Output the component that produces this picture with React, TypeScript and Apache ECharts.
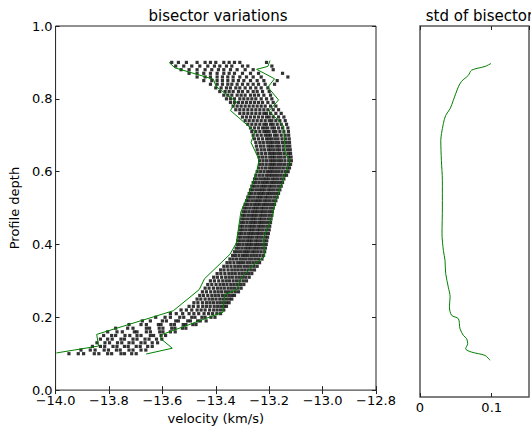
import React, { useEffect, useRef } from "react";
import * as echarts from "echarts";

// Depth levels of the sampled bisector points (top to bottom)
const depthLevels = [
  0.90, 0.89, 0.88, 0.87, 0.86, 0.85, 0.84, 0.83, 0.82, 0.81,
  0.80, 0.79, 0.78, 0.77, 0.76, 0.75, 0.74, 0.73, 0.72, 0.71,
  0.70, 0.69, 0.68, 0.67, 0.66, 0.65, 0.64, 0.63, 0.62, 0.61,
  0.60, 0.59, 0.58, 0.57, 0.56, 0.55, 0.54, 0.53, 0.52, 0.51,
  0.50, 0.49, 0.48, 0.47, 0.46, 0.45, 0.44, 0.43, 0.42, 0.41,
  0.40, 0.39, 0.38, 0.37, 0.36, 0.35, 0.34, 0.33, 0.32, 0.31,
  0.30, 0.29, 0.28, 0.27, 0.26, 0.25, 0.24, 0.23, 0.22, 0.21,
  0.20, 0.19, 0.18, 0.17, 0.16, 0.15, 0.14, 0.13, 0.12, 0.11,
  0.10,
];

// Bisector velocities (km/s) read at each depth level
const velocityRows = [
  [-13.565, -13.54, -13.51, -13.47, -13.44, -13.42, -13.40, -13.37, -13.35, -13.33, -13.31, -13.21],
  [-13.55, -13.52, -13.49, -13.46, -13.43, -13.405, -13.385, -13.36, -13.34, -13.30, -13.28, -13.19],
  [-13.53, -13.50, -13.47, -13.44, -13.415, -13.39, -13.37, -13.345, -13.32, -13.29, -13.26, -13.185],
  [-13.50, -13.47, -13.445, -13.42, -13.395, -13.37, -13.35, -13.33, -13.30, -13.27, -13.24, -13.15],
  [-13.47, -13.44, -13.42, -13.395, -13.375, -13.355, -13.335, -13.31, -13.285, -13.26, -13.23, -13.13],
  [-13.445, -13.415, -13.395, -13.375, -13.355, -13.335, -13.315, -13.295, -13.27, -13.245, -13.22, -13.17],
  [-13.42, -13.395, -13.375, -13.355, -13.34, -13.32, -13.30, -13.28, -13.26, -13.24, -13.215, -13.18],
  [-13.40, -13.38, -13.36, -13.345, -13.325, -13.31, -13.29, -13.27, -13.25, -13.23, -13.205],
  [-13.385, -13.365, -13.35, -13.335, -13.315, -13.30, -13.28, -13.26, -13.245, -13.225, -13.20],
  [-13.37, -13.355, -13.34, -13.32, -13.305, -13.29, -13.27, -13.255, -13.24, -13.22, -13.195],
  [-13.36, -13.345, -13.33, -13.31, -13.295, -13.28, -13.265, -13.25, -13.23, -13.21, -13.19],
  [-13.345, -13.33, -13.315, -13.30, -13.285, -13.27, -13.255, -13.24, -13.225, -13.205, -13.185],
  [-13.335, -13.32, -13.305, -13.29, -13.275, -13.26, -13.245, -13.23, -13.215, -13.195, -13.175],
  [-13.325, -13.31, -13.295, -13.28, -13.265, -13.25, -13.235, -13.22, -13.205, -13.185, -13.165],
  [-13.31, -13.295, -13.28, -13.265, -13.25, -13.235, -13.22, -13.21, -13.195, -13.175, -13.155],
  [-13.30, -13.285, -13.27, -13.255, -13.24, -13.225, -13.21, -13.20, -13.185, -13.165, -13.145],
  [-13.29, -13.275, -13.26, -13.245, -13.23, -13.215, -13.20, -13.19, -13.175, -13.16, -13.14],
  [-13.28, -13.265, -13.25, -13.235, -13.22, -13.21, -13.195, -13.185, -13.17, -13.155, -13.135],
  [-13.27, -13.255, -13.24, -13.225, -13.215, -13.205, -13.19, -13.18, -13.165, -13.15, -13.13],
  [-13.265, -13.25, -13.235, -13.22, -13.21, -13.20, -13.185, -13.175, -13.16, -13.145, -13.128],
  [-13.26, -13.245, -13.23, -13.215, -13.205, -13.195, -13.18, -13.17, -13.155, -13.14, -13.127],
  [-13.255, -13.24, -13.225, -13.21, -13.20, -13.19, -13.178, -13.167, -13.152, -13.138, -13.125],
  [-13.25, -13.235, -13.222, -13.208, -13.197, -13.187, -13.175, -13.164, -13.15, -13.136, -13.124],
  [-13.248, -13.233, -13.22, -13.205, -13.195, -13.185, -13.172, -13.162, -13.148, -13.134, -13.123],
  [-13.245, -13.23, -13.217, -13.203, -13.193, -13.182, -13.17, -13.16, -13.146, -13.132, -13.121],
  [-13.242, -13.228, -13.214, -13.20, -13.19, -13.18, -13.168, -13.157, -13.144, -13.13, -13.12],
  [-13.238, -13.225, -13.212, -13.198, -13.188, -13.178, -13.166, -13.155, -13.142, -13.128, -13.118],
  [-13.236, -13.223, -13.21, -13.197, -13.187, -13.177, -13.165, -13.154, -13.141, -13.127, -13.117],
  [-13.236, -13.224, -13.211, -13.198, -13.188, -13.178, -13.166, -13.155, -13.143, -13.13, -13.12],
  [-13.24, -13.227, -13.214, -13.201, -13.191, -13.181, -13.17, -13.159, -13.147, -13.134, -13.124],
  [-13.245, -13.232, -13.219, -13.206, -13.196, -13.186, -13.175, -13.164, -13.152, -13.139, -13.129],
  [-13.25, -13.237, -13.224, -13.211, -13.201, -13.191, -13.18, -13.169, -13.157, -13.145, -13.135],
  [-13.255, -13.245, -13.233, -13.221, -13.211, -13.201, -13.189, -13.179, -13.168, -13.156, -13.145],
  [-13.26, -13.25, -13.238, -13.226, -13.216, -13.206, -13.194, -13.184, -13.173, -13.161, -13.15],
  [-13.265, -13.255, -13.243, -13.231, -13.221, -13.211, -13.199, -13.189, -13.178, -13.166, -13.155],
  [-13.27, -13.26, -13.248, -13.236, -13.226, -13.216, -13.204, -13.194, -13.183, -13.171, -13.16],
  [-13.275, -13.265, -13.253, -13.241, -13.231, -13.221, -13.209, -13.199, -13.188, -13.176, -13.165],
  [-13.28, -13.27, -13.258, -13.246, -13.236, -13.226, -13.214, -13.204, -13.193, -13.181, -13.17],
  [-13.285, -13.275, -13.263, -13.251, -13.241, -13.231, -13.219, -13.209, -13.198, -13.186, -13.175],
  [-13.29, -13.28, -13.268, -13.256, -13.246, -13.236, -13.224, -13.214, -13.203, -13.191, -13.18],
  [-13.295, -13.285, -13.273, -13.261, -13.251, -13.241, -13.229, -13.219, -13.208, -13.196, -13.185],
  [-13.298, -13.288, -13.276, -13.264, -13.254, -13.244, -13.232, -13.222, -13.211, -13.199, -13.188],
  [-13.30, -13.29, -13.278, -13.266, -13.256, -13.246, -13.234, -13.224, -13.213, -13.201, -13.19],
  [-13.303, -13.293, -13.281, -13.269, -13.259, -13.249, -13.237, -13.227, -13.216, -13.204, -13.193],
  [-13.305, -13.295, -13.283, -13.271, -13.261, -13.251, -13.239, -13.229, -13.218, -13.206, -13.195],
  [-13.308, -13.298, -13.286, -13.274, -13.264, -13.254, -13.242, -13.232, -13.221, -13.209, -13.198],
  [-13.31, -13.30, -13.288, -13.276, -13.266, -13.256, -13.244, -13.234, -13.223, -13.211, -13.20],
  [-13.313, -13.303, -13.291, -13.279, -13.269, -13.259, -13.247, -13.237, -13.226, -13.214, -13.203],
  [-13.315, -13.305, -13.293, -13.281, -13.271, -13.261, -13.249, -13.239, -13.228, -13.216, -13.206],
  [-13.318, -13.308, -13.296, -13.284, -13.274, -13.264, -13.252, -13.242, -13.231, -13.219, -13.209],
  [-13.32, -13.31, -13.298, -13.286, -13.276, -13.266, -13.254, -13.244, -13.233, -13.221, -13.211],
  [-13.324, -13.314, -13.302, -13.29, -13.28, -13.27, -13.258, -13.248, -13.237, -13.225, -13.214],
  [-13.33, -13.319, -13.307, -13.295, -13.285, -13.275, -13.263, -13.253, -13.242, -13.23, -13.217],
  [-13.337, -13.326, -13.313, -13.30, -13.29, -13.28, -13.268, -13.257, -13.246, -13.234, -13.221],
  [-13.347, -13.335, -13.322, -13.309, -13.298, -13.287, -13.275, -13.264, -13.252, -13.24, -13.227],
  [-13.358, -13.346, -13.332, -13.318, -13.307, -13.296, -13.283, -13.272, -13.26, -13.248, -13.236],
  [-13.37, -13.357, -13.343, -13.329, -13.317, -13.306, -13.293, -13.281, -13.269, -13.257, -13.245],
  [-13.382, -13.369, -13.354, -13.34, -13.328, -13.316, -13.303, -13.291, -13.279, -13.267, -13.255],
  [-13.395, -13.381, -13.366, -13.351, -13.339, -13.327, -13.313, -13.301, -13.289, -13.277, -13.265],
  [-13.408, -13.394, -13.378, -13.363, -13.35, -13.338, -13.324, -13.312, -13.30, -13.288, -13.275],
  [-13.42, -13.405, -13.389, -13.374, -13.361, -13.349, -13.335, -13.322, -13.31, -13.297, -13.285],
  [-13.43, -13.415, -13.399, -13.384, -13.371, -13.358, -13.344, -13.332, -13.32, -13.307, -13.295],
  [-13.44, -13.425, -13.409, -13.394, -13.381, -13.368, -13.354, -13.342, -13.33, -13.317, -13.305],
  [-13.45, -13.435, -13.419, -13.404, -13.391, -13.378, -13.364, -13.352, -13.34, -13.327, -13.315],
  [-13.46, -13.446, -13.43, -13.415, -13.402, -13.389, -13.375, -13.363, -13.351, -13.34, -13.33],
  [-13.47, -13.456, -13.44, -13.425, -13.412, -13.399, -13.385, -13.373, -13.361, -13.35, -13.34],
  [-13.482, -13.467, -13.45, -13.435, -13.422, -13.409, -13.395, -13.383, -13.371, -13.36, -13.35],
  [-13.50, -13.484, -13.466, -13.449, -13.435, -13.421, -13.406, -13.393, -13.381, -13.37, -13.36],
  [-13.53, -13.51, -13.49, -13.47, -13.455, -13.44, -13.423, -13.408, -13.395, -13.382, -13.37],
  [-13.57, -13.548, -13.524, -13.50, -13.482, -13.464, -13.444, -13.427, -13.412, -13.396, -13.382],
  [-13.625, -13.59, -13.57, -13.535, -13.52, -13.49, -13.478, -13.452, -13.44, -13.418, -13.403],
  [-13.675, -13.645, -13.60, -13.585, -13.55, -13.54, -13.505, -13.495, -13.468, -13.458, -13.436],
  [-13.725, -13.68, -13.66, -13.615, -13.605, -13.568, -13.555, -13.522, -13.512, -13.486, -13.474],
  [-13.775, -13.73, -13.71, -13.66, -13.648, -13.612, -13.598, -13.565, -13.553, -13.525, -13.512],
  [-13.805, -13.77, -13.75, -13.705, -13.695, -13.66, -13.645, -13.61, -13.598, -13.57, -13.552],
  [-13.82, -13.79, -13.775, -13.74, -13.722, -13.695, -13.68, -13.645, -13.633, -13.605, -13.588],
  [-13.832, -13.805, -13.788, -13.755, -13.742, -13.71, -13.695, -13.665, -13.65, -13.622, -13.602],
  [-13.845, -13.815, -13.798, -13.768, -13.752, -13.725, -13.71, -13.68, -13.665, -13.638, -13.618],
  [-13.862, -13.832, -13.816, -13.785, -13.77, -13.742, -13.728, -13.698, -13.683, -13.655, -13.638],
  [-13.905, -13.87, -13.852, -13.818, -13.802, -13.772, -13.758, -13.725, -13.71, -13.68, -13.662],
  [-13.95, -13.915, -13.895, -13.855, -13.838, -13.805, -13.79, -13.755, -13.742, -13.715, -13.698],
];

// Green envelope lines [velocity, depth]
const leftEnvelope = [
  [-13.575, 0.900], [-13.553, 0.885], [-13.409, 0.854], [-13.399, 0.834],
  [-13.322, 0.791], [-13.335, 0.780], [-13.345, 0.768], [-13.254, 0.710],
  [-13.268, 0.680], [-13.238, 0.633], [-13.245, 0.606], [-13.269, 0.553],
  [-13.306, 0.490], [-13.323, 0.404], [-13.347, 0.373], [-13.442, 0.306],
  [-13.462, 0.276], [-13.559, 0.218], [-13.846, 0.153], [-13.839, 0.121],
  [-13.997, 0.102],
];
const rightEnvelope = [
  [-13.197, 0.905], [-13.205, 0.889], [-13.247, 0.881], [-13.180, 0.855],
  [-13.205, 0.832], [-13.165, 0.797], [-13.200, 0.767], [-13.146, 0.725],
  [-13.143, 0.690], [-13.140, 0.651], [-13.122, 0.629], [-13.134, 0.606],
  [-13.177, 0.517], [-13.189, 0.476], [-13.220, 0.420], [-13.218, 0.366],
  [-13.263, 0.341], [-13.306, 0.306], [-13.322, 0.276], [-13.367, 0.262],
  [-13.373, 0.214], [-13.600, 0.153], [-13.607, 0.142], [-13.563, 0.115],
  [-13.661, 0.099],
];

// Standard deviation of the bisector vs depth
const stdDepths = [
  0.899, 0.891, 0.881, 0.867, 0.851, 0.836, 0.800, 0.777, 0.759, 0.737,
  0.710, 0.692, 0.638, 0.584, 0.512, 0.440, 0.395, 0.368, 0.333, 0.296,
  0.270, 0.243, 0.220, 0.211, 0.184, 0.166, 0.157, 0.144, 0.130, 0.121,
  0.112, 0.099,
];
const stdValues = [
  0.099, 0.0907, 0.072, 0.0674, 0.058, 0.0535, 0.0465, 0.042, 0.0358, 0.0326,
  0.030, 0.029, 0.0298, 0.0312, 0.0312, 0.0307, 0.0326, 0.0349, 0.0358, 0.0395,
  0.042, 0.041, 0.0442, 0.0535, 0.0558, 0.0605, 0.0651, 0.0665, 0.0637, 0.072,
  0.0907, 0.0977,
];

const leftTicksX = { min: -14.0, max: -12.8, interval: 0.2 };
const depthTicks = { min: 0, max: 1, interval: 0.2 };
const stdTicks = { min: 0, max: 0.152, interval: 0.1 };

const FONT = "DejaVu Sans";

export default function App() {
  const ref = useRef<HTMLDivElement>(null);

  useEffect(() => {
    if (!ref.current) return;
    const chart = echarts.init(ref.current, undefined, { renderer: "svg" });

    const scatterData: number[][] = [];
    depthLevels.forEach((d, i) => {
      velocityRows[i].forEach((v) => scatterData.push([v, d]));
    });
    const stdData = stdDepths.map((d, i) => [stdValues[i], d]);

    const minus = (s: string) => s.replace("-", "\u2212");
    const tickStyle = { show: true, inside: true, length: 4, lineStyle: { color: "#222", width: 1 } };
    const labelBase = { fontSize: 13, color: "#000", fontFamily: FONT };

    const option: any = {
      animation: false,
      backgroundColor: "#fff",
      textStyle: { fontFamily: FONT },
      title: [
        {
          text: "bisector variations",
          left: 213,
          top: 3,
          textAlign: "center",
          textStyle: { fontFamily: FONT, fontSize: 15, fontWeight: "normal", color: "#000" },
        },
        {
          text: "std of bisector",
          left: 474.5,
          top: 3,
          textAlign: "center",
          textStyle: { fontFamily: FONT, fontSize: 15, fontWeight: "normal", color: "#000" },
        },
      ],
      grid: [
        { left: 50, top: 26, width: 326, height: 371, show: true, borderColor: "#222", borderWidth: 1, backgroundColor: "transparent" },
        { left: 420, top: 26, width: 109, height: 371, show: true, borderColor: "#555", borderWidth: 1.5, backgroundColor: "transparent" },
      ],
      xAxis: [
        {
          type: "value",
          gridIndex: 0,
          ...leftTicksX,
          axisLine: { show: false },
          axisTick: tickStyle,
          splitLine: { show: false },
          axisLabel: { ...labelBase, margin: 4, formatter: (v: number) => minus(v.toFixed(1)) },
          name: "velocity (km/s)",
          nameLocation: "middle",
          nameGap: 19,
          nameTextStyle: { ...labelBase, verticalAlign: "top" },
        },
        {
          type: "value",
          gridIndex: 0,
          position: "top",
          ...leftTicksX,
          axisLine: { show: false },
          axisTick: tickStyle,
          splitLine: { show: false },
          axisLabel: { show: false },
        },
        {
          type: "value",
          gridIndex: 1,
          ...stdTicks,
          axisLine: { show: false },
          axisTick: tickStyle,
          splitLine: { show: false },
          axisLabel: {
            ...labelBase,
            margin: 4,
            showMaxLabel: false,
            formatter: (v: number) => (v === 0 ? "0" : v.toFixed(1)),
          },
        },
        {
          type: "value",
          gridIndex: 1,
          position: "top",
          ...stdTicks,
          axisLine: { show: false },
          axisTick: tickStyle,
          splitLine: { show: false },
          axisLabel: { show: false },
        },
      ],
      yAxis: [
        {
          type: "value",
          gridIndex: 0,
          ...depthTicks,
          axisLine: { show: false },
          axisTick: tickStyle,
          splitLine: { show: false },
          axisLabel: { ...labelBase, margin: 3, formatter: (v: number) => v.toFixed(1) },
          name: "Profile depth",
          nameLocation: "middle",
          nameGap: 29,
          nameTextStyle: { ...labelBase },
        },
        {
          type: "value",
          gridIndex: 0,
          position: "right",
          ...depthTicks,
          axisLine: { show: false },
          axisTick: tickStyle,
          splitLine: { show: false },
          axisLabel: { show: false },
        },
        {
          type: "value",
          gridIndex: 1,
          ...depthTicks,
          axisLine: { show: false },
          axisTick: { show: false },
          splitLine: { show: false },
          axisLabel: { show: false },
        },
      ],
      series: [
        {
          type: "scatter",
          xAxisIndex: 0,
          yAxisIndex: 0,
          data: scatterData,
          symbol: "rect",
          symbolSize: 3.2,
          itemStyle: { color: "#000" },
          silent: true,
        },
        {
          type: "line",
          xAxisIndex: 0,
          yAxisIndex: 0,
          data: leftEnvelope,
          showSymbol: false,
          lineStyle: { color: "#008000", width: 1 },
          silent: true,
        },
        {
          type: "line",
          xAxisIndex: 0,
          yAxisIndex: 0,
          data: rightEnvelope,
          showSymbol: false,
          lineStyle: { color: "#008000", width: 1 },
          silent: true,
        },
        {
          type: "line",
          xAxisIndex: 2,
          yAxisIndex: 2,
          data: stdData,
          showSymbol: false,
          smooth: 0.3,
          lineStyle: { color: "#008000", width: 1 },
          silent: true,
        },
      ],
    };

    chart.setOption(option);
    return () => chart.dispose();
  }, []);

  return (
    <div
      ref={ref}
      style={{ position: "fixed", left: 0, top: 0, width: 531, height: 430, background: "#fff" }}
    />
  );
}
